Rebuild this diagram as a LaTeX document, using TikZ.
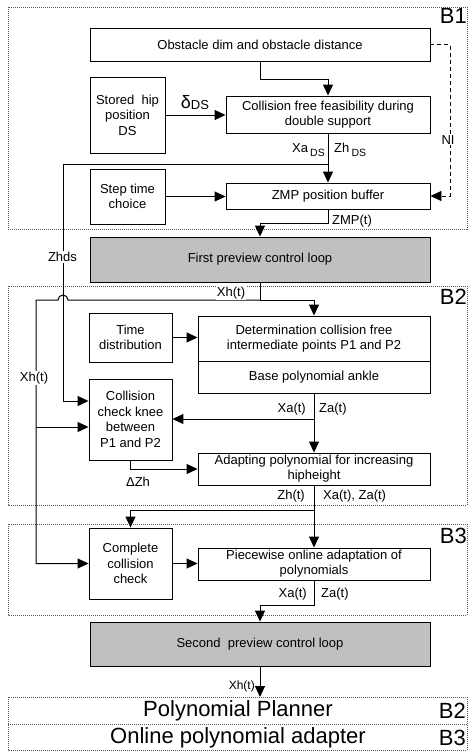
\documentclass[tikz,border=0pt]{standalone}
\usepackage{fontspec}
\setmainfont{Liberation Sans}
\usetikzlibrary{arrows.meta,calc}
\definecolor{boxgray}{RGB}{192,192,192}
\begin{document}
\begin{tikzpicture}[x=1pt,y=-1pt,
  box/.style={draw, line width=0.9pt, fill=white, align=center, inner sep=1pt,
    font=\fontsize{13}{15.5}\selectfont},
  graybox/.style={box, fill=boxgray},
  arr/.style={line width=1pt, -{Triangle[length=11pt,width=10pt]}},
  ln/.style={line width=1pt},
  region/.style={draw=black!65, line width=0.7pt, dash pattern=on 1pt off 1pt},
  lbl/.style={inner sep=1pt, font=\fontsize{13}{15}\selectfont},
  wlbl/.style={lbl, fill=white},
  blbl/.style={inner sep=0pt, font=\fontsize{22}{22}\selectfont, anchor=north east},
  leg/.style={inner sep=0pt, font=\fontsize{22}{22}\selectfont}
]
\useasboundingbox (0,0) rectangle (468,752);
\fill[white] (0,0) rectangle (468,752);

% regions
\draw[region] (8,7) rectangle (467,229);
\draw[region] (8,286) rectangle (467,505);
\draw[region] (8,524) rectangle (467,615);
\draw[region] (8,697) rectangle (467,750);
\draw[region] (8,724) -- (467,724);
\node[blbl] (b1) at (467,8) {B1};
\node[blbl] (b2) at (467,289) {B2};
\node[blbl] (b3) at (467,528) {B3};

% boxes
\node[box, minimum width=340, minimum height=33] (obs) at (260,44.5) {Obstacle dim and obstacle distance};
\node[box, minimum width=75, minimum height=76] (hip) at (127.5,115) {Stored\ \ hip\\position\\DS};
\node[box, minimum width=204, minimum height=37] (cff) at (328,114.5) {Collision free feasibility during\\double support};
\node[box, minimum width=75, minimum height=55] (step) at (127.5,196.5) {Step time\\choice};
\node[box, minimum width=204, minimum height=26] (zmp) at (328,196) {ZMP position buffer};
\node[graybox, minimum width=340, minimum height=45] (fp) at (260,259.5) {First preview control loop};
\node[box, minimum width=83, minimum height=49] (td) at (130.5,337.5) {Time\\distribution};
\node[box, minimum width=232, minimum height=45] (det) at (314,338.5) {Determination collision free\\intermediate points P1 and P2};
\node[box, minimum width=232, minimum height=32] (base) at (314,377) {Base polynomial ankle};
\node[box, minimum width=83, minimum height=81] (cck) at (130.5,419.5) {Collision\\check knee\\between\\P1 and P2};
\node[box, minimum width=232, minimum height=32, font=\fontsize{13}{15}\selectfont] (adp) at (314,469) {Adapting polynomial for increasing\\hipheight};
\node[box, minimum width=83, minimum height=71] (ccc) at (130.5,563.5) {Complete\\collision\\check};
\node[box, minimum width=232, minimum height=32, font=\fontsize{13}{15}\selectfont] (pw) at (314,564) {Piecewise online adaptation of\\polynomials};
\node[graybox, minimum width=340, minimum height=44] (sp) at (260,644) {Second\ \ preview control loop};

% legend
\node[leg] (lp) at (238,711) {Polynomial Planner};
\node[leg] (lo) at (238,737.5) {Online polynomial adapter};
\node[leg, anchor=east] (lb2) at (466,711) {B2};
\node[leg, anchor=east] (lb3) at (466,737.5) {B3};
\coordinate (legtop) at (260,697);

% junction coordinates
\coordinate (zj) at (328,164);
\coordinate (zk) at (63,401);
\coordinate (ni) at (450,120);
\coordinate (jx) at (260,300);
\coordinate (hopR) at (68,300);
\coordinate (xc) at (36,300);
\coordinate (xb) at (36,427);
\coordinate (bj) at (314,419);
\coordinate (aj) at (314,510);

% connectors B1
\draw[arr] (obs.south) -- ++(0,18) -| (cff.north);
\draw[arr] (hip.east) -- (hip.east -| cff.west);
\draw[arr] (cff.south) -- (zmp.north);
\draw[arr] (step.east) -- (step.east -| zmp.west);
\draw[arr, line width=0.8pt, dash pattern=on 4pt off 3pt] (obs.east) -| (ni) |- (zmp.east);
\draw[arr] (zmp.south) -- ++(0,14) -| (fp.north);
\draw[arr] (zj) -| (zk) -- (zk -| cck.west);

% connectors B2
\draw[ln] (fp.south) -- (jx);
\draw[arr] (jx) -| (det.north);
\draw[arr] (jx) -- (hopR) arc[start angle=0, end angle=180, radius=5pt] -- (xc) |- (ccc.west);
\draw[arr] (xb) -- (xb -| cck.west);
\draw[arr] (td.east) -- (td.east -| det.west);
\draw[arr] (base.south) -- (adp.north);
\draw[arr] (bj) -- (bj -| cck.east);
\draw[arr] (cck.south) |- (adp.west);

% connectors B3
\draw[ln] (adp.south) -- (aj);
\draw[arr] (aj) -| (ccc.north);
\draw[arr] (aj) -- (pw.north);
\draw[arr] (ccc.east) -- (ccc.east -| pw.west);
\draw[arr] (pw.south) -- ++(0,25) -| (sp.north);
\draw[arr] (sp.south) -- (legtop);

% labels
\node[lbl] (ldds) at (195,103) {{\fontsize{18}{18}\selectfont δ}\raisebox{-1pt}{DS}};
\node[lbl, anchor=east] (lxads) at (326,150) {Xa\,\raisebox{-4pt}{\fontsize{10.5}{10.5}\selectfont DS}};
\node[lbl, anchor=west] (lzhds) at (333,150) {Zh\,\raisebox{-4pt}{\fontsize{10.5}{10.5}\selectfont DS}};
\node[wlbl] (lni) at (448,140) {NI};
\node[lbl, anchor=west] (lzmpt) at (331,221) {ZMP(t)};
\node[wlbl] (lzhds2) at (62.5,257) {Zhds};
\node[wlbl] (lxh1) at (231,293) {Xh(t)};
\node[wlbl] (lxh2) at (34,378) {Xh(t)};
\node[lbl, anchor=east] (lxa1) at (307,409) {Xa(t)};
\node[lbl, anchor=west] (lza1) at (318,409) {Za(t)};
\node[lbl] (ldzh) at (138,482) {ΔZh};
\node[lbl, anchor=east] (lzh) at (306,496) {Zh(t)};
\node[lbl, anchor=west] (lxaza) at (322,496) {Xa(t), Za(t)};
\node[lbl, anchor=east] (lxa2) at (308,594) {Xa(t)};
\node[lbl, anchor=west] (lza2) at (320,594) {Za(t)};
\node[lbl, anchor=east, font=\fontsize{12}{14}\selectfont] (lxh3) at (256,686) {Xh(t)};
\end{tikzpicture}
\end{document}
